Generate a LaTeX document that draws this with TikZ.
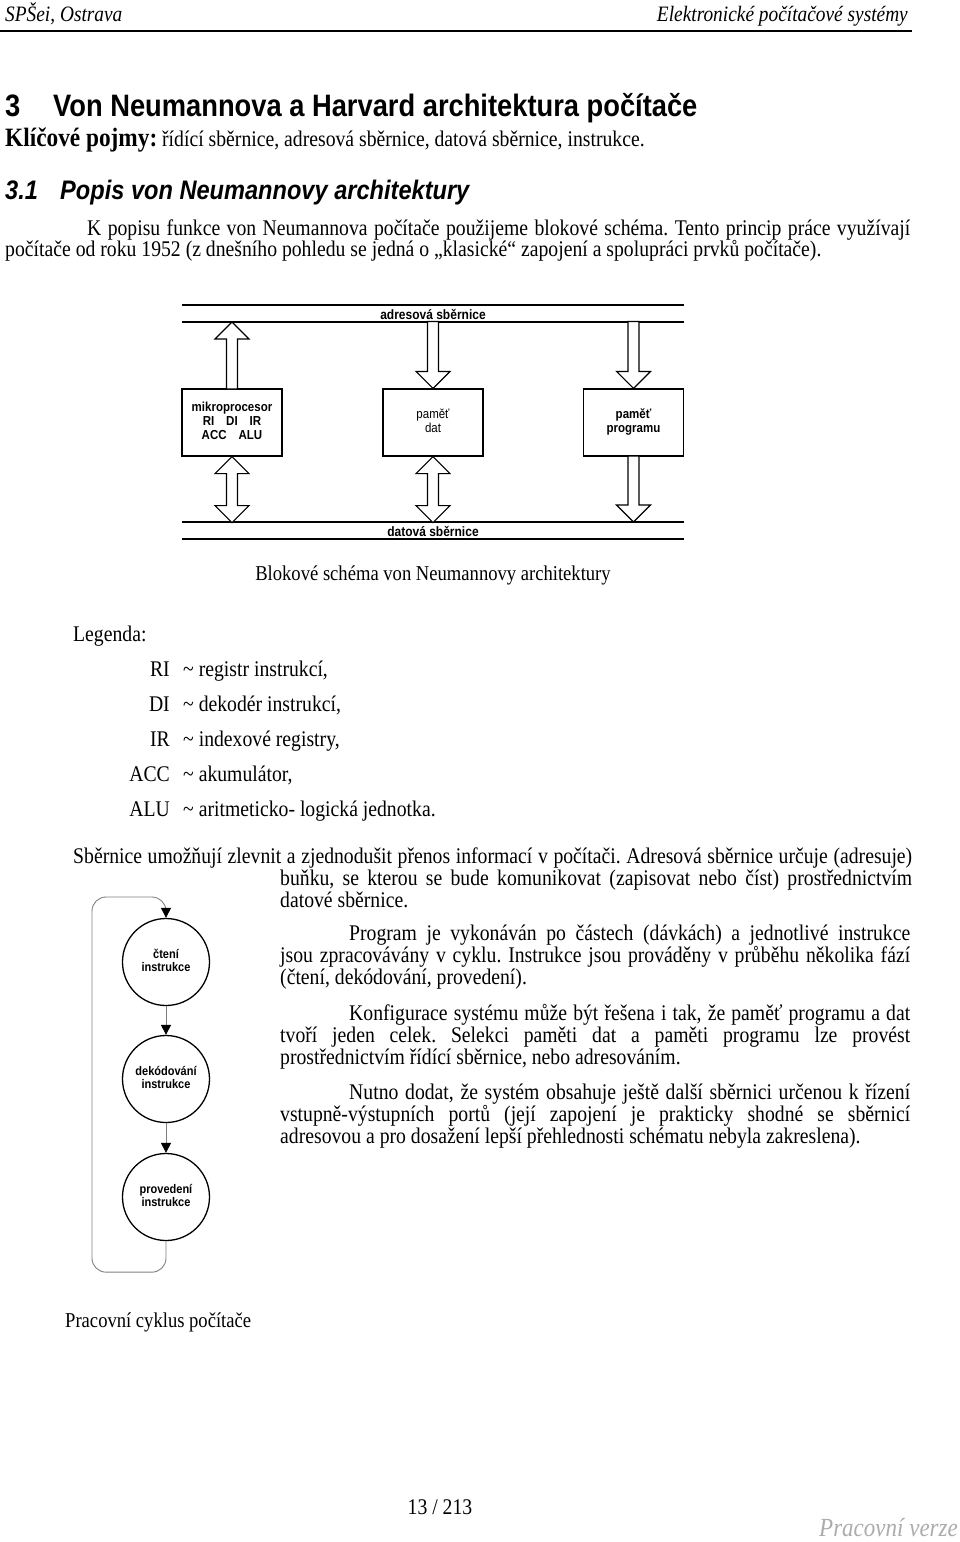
\documentclass[tikz,border=0pt]{standalone}
\usepackage{fontspec}
\setmainfont{Liberation Serif}
\setsansfont{Liberation Sans}
\usetikzlibrary{arrows.meta}
\frenchspacing
% the scanned page is stretched vertically
\newcommand\vs[1]{\scalebox{1}[1.135]{#1}}
\newcommand\vst[1]{\vs{\begin{tabular}{@{}c@{}}#1\end{tabular}}}
\newcommand\jline[2]{\vs{\makebox[#1][s]{#2}}}
\newcommand\bodyfont{\fontsize{19.7}{22}\selectfont}
\newcommand\capfont{\fontsize{18.6}{22}\selectfont}
\tikzset{
  txt/.style={anchor=base west, inner sep=0pt, font=\bodyfont},
  txtr/.style={anchor=base east, inner sep=0pt, font=\bodyfont},
  txtc/.style={anchor=base, inner sep=0pt, font=\bodyfont},
  bus/.style={line width=1.3pt},
  buslabel/.style={inner sep=0pt, font=\sffamily\bfseries\fontsize{12}{12}\selectfont},
  blk/.style={draw, line width=1.2pt, minimum width=100pt, minimum height=67pt,
    inner sep=0pt, font=\sffamily\bfseries\fontsize{11.5}{12.3}\selectfont},
  barrow/.style={draw, fill=white, line width=1.2pt, line join=miter},
  phase/.style={circle, draw, line width=1.3pt, minimum size=87pt, inner sep=0pt,
    font=\sffamily\bfseries\fontsize{11}{11.5}\selectfont},
  flow/.style={draw=gray, line width=0.9pt, -{Triangle[color=black,width=10pt,length=10pt]}},
  pics/uparr/.style={code={
    \draw[barrow] (0,0) -- (-17,17) -- (-5.5,17) -- (-5.5,#1) -- (5.5,#1) -- (5.5,17) -- (17,17) -- cycle;}},
  pics/dnarr/.style={code={
    \draw[barrow] (0,0) -- (-17,-17) -- (-5.5,-17) -- (-5.5,-#1) -- (5.5,-#1) -- (5.5,-17) -- (17,-17) -- cycle;}},
  pics/dblarr/.style={code={
    \draw[barrow] (0,0) -- (17,17) -- (5.5,17) -- (5.5,{#1-17}) -- (17,{#1-17}) -- (0,#1)
      -- (-17,{#1-17}) -- (-5.5,{#1-17}) -- (-5.5,17) -- (-17,17) -- cycle;}}
}
\begin{document}
\begin{tikzpicture}[x=1pt, y=-1pt]
\useasboundingbox[fill=white] (0,0) rectangle (960,1542);
% header
\node[txt, font=\fontsize{19.36}{22}\selectfont\itshape] (hl) at (5,21) {\vs{SPŠei, Ostrava}};
\node[txtr, font=\fontsize{19.36}{22}\selectfont\itshape] (hr) at (908,21) {\vs{Elektronické počítačové systémy}};
\draw[line width=1.4pt] (0,31) -- (912,31);
% headings
\node[txt, font=\sffamily\bfseries\fontsize{27.3}{30}\selectfont] (h1n) at (5,116) {\vs{3}};
\node[txt, font=\sffamily\bfseries\fontsize{27.3}{30}\selectfont] (h1) at (53,116) {\vs{Von Neumannova a Harvard architektura počítače}};
\node[txt] (kp) at (5,146) {\vs{{\fontsize{23.3}{26}\selectfont\bfseries Klíčové pojmy:} řídící sběrnice, adresová sběrnice, datová sběrnice, instrukce.}};
\node[txt, font=\sffamily\bfseries\itshape\fontsize{23.6}{26}\selectfont] (h2n) at (5,199) {\vs{3.1}};
\node[txt, font=\sffamily\bfseries\itshape\fontsize{23.6}{26}\selectfont] (h2) at (60,199) {\vs{Popis von Neumannovy architektury}};
\node[txt] (p1a) at (87,235) {\jline{823pt}{K popisu funkce von Neumannova počítače použijeme blokové schéma. Tento princip práce využívají}};
\node[txt] (p1b) at (5,256) {\vs{počítače od roku 1952 (z dnešního pohledu se jedná o „klasické“ zapojení a spolupráci prvků počítače).}};

% block diagram
\draw[bus] (182,305) -- (684,305);
\draw[bus] (182,322) -- (684,322);
\node[buslabel] (abus) at (433,314) {\vs{adresová sběrnice}};
\draw[bus] (182,522) -- (684,522);
\draw[bus] (182,539) -- (684,539);
\node[buslabel] (dbus) at (433,531) {\vs{datová sběrnice}};
\coordinate (atop) at (0,322);
\coordinate (dtop) at (0,522);
\node[blk] (mp) at (232,422.5) {\vst{mikroprocesor\\RI\hspace{12pt}DI\hspace{12pt}IR\\ACC\hspace{12pt}ALU}};
\node[blk, font=\sffamily\fontsize{11.5}{12.3}\selectfont] (pd) at (433,422.5) {\vst{paměť\\dat}};
\node[blk] (pp) at (633.5,422.5) {\vst{paměť\\programu}};
\pic at (mp.north |- atop) {uparr=67};
\pic at (pd.north) {dnarr=67};
\pic at (pp.north) {dnarr=67};
\pic at (mp.south) {dblarr=66};
\pic at (pd.south) {dblarr=66};
\pic at (pp.south |- dtop) {dnarr=66};
\node[txtc, font=\capfont] (cap1) at (433,580) {\vs{Blokové schéma von Neumannovy architektury}};

% legend
\node[txt] (leg) at (73,641) {\vs{Legenda:}};
\foreach \ab/\txt [count=\i] in {RI/{registr instrukcí,}, DI/{dekodér instrukcí,},
    IR/{indexové registry,}, ACC/{akumulátor,}, ALU/{aritmeticko- logická jednotka.}}{
  \node[txtr] (ab\i) at (170,{641+35*\i}) {\vs{\ab}};
  \node[txt] (lt\i) at (183,{641+35*\i}) {\vs{\textasciitilde{} \txt}};
}

% text beside the cycle
\node[txt] (s1) at (73,863) {\jline{839pt}{Sběrnice umožňují zlevnit a zjednodušit přenos informací v počítači. Adresová sběrnice určuje (adresuje)}};
\node[txt] (s2) at (280,885) {\jline{632pt}{buňku, se kterou se bude komunikovat (zapisovat nebo číst) prostřednictvím}};
\node[txt] (s3) at (280,907) {\vs{datové sběrnice.}};
\node[txt] (q1) at (349,940) {\jline{561pt}{Program je vykonáván po částech (dávkách) a jednotlivé instrukce}};
\node[txt] (q2) at (280,962) {\jline{630pt}{jsou zpracovávány v cyklu. Instrukce jsou prováděny v průběhu několika fází}};
\node[txt] (q3) at (280,984) {\vs{(čtení, dekódování, provedení).}};
\node[txt] (r1) at (349,1020) {\jline{561pt}{Konfigurace systému může být řešena i tak, že paměť programu a dat}};
\node[txt] (r2) at (280,1042) {\jline{630pt}{tvoří jeden celek. Selekci paměti dat a paměti programu lze provést}};
\node[txt] (r3) at (280,1064) {\vs{prostřednictvím řídící sběrnice, nebo adresováním.}};
\node[txt] (u1) at (349,1099) {\jline{561pt}{Nutno dodat, že systém obsahuje ještě další sběrnici určenou k řízení}};
\node[txt] (u2) at (280,1121) {\jline{630pt}{vstupně-výstupních portů (její zapojení je prakticky shodné se sběrnicí}};
\node[txt] (u3) at (280,1143) {\vs{adresovou a pro dosažení lepší přehlednosti schématu nebyla zakreslena).}};

% instruction cycle
\node[phase] (c1) at (166,962) {\vst{čtení\\instrukce}};
\node[phase] (c2) at (166,1079) {\vst{dekódování\\instrukce}};
\node[phase] (c3) at (166,1197) {\vst{provedení\\instrukce}};
\coordinate (lt) at (92,897);
\draw[flow] (c1) -- (c2);
\draw[flow] (c2) -- (c3);
\draw[flow, rounded corners=14pt] (c3.south) -- ++(0,31) -| (lt) -| (c1.north);
\node[txt, font=\capfont] (cap2) at (65,1327) {\vs{Pracovní cyklus počítače}};

% footer
\node[txtc] (pg) at (440,1514) {\vs{13 / 213}};
\node[txtr, font=\itshape\fontsize{23}{26}\selectfont, text=gray!65] (ver) at (958,1536) {\vs{Pracovní verze}};
\end{tikzpicture}
\end{document}
